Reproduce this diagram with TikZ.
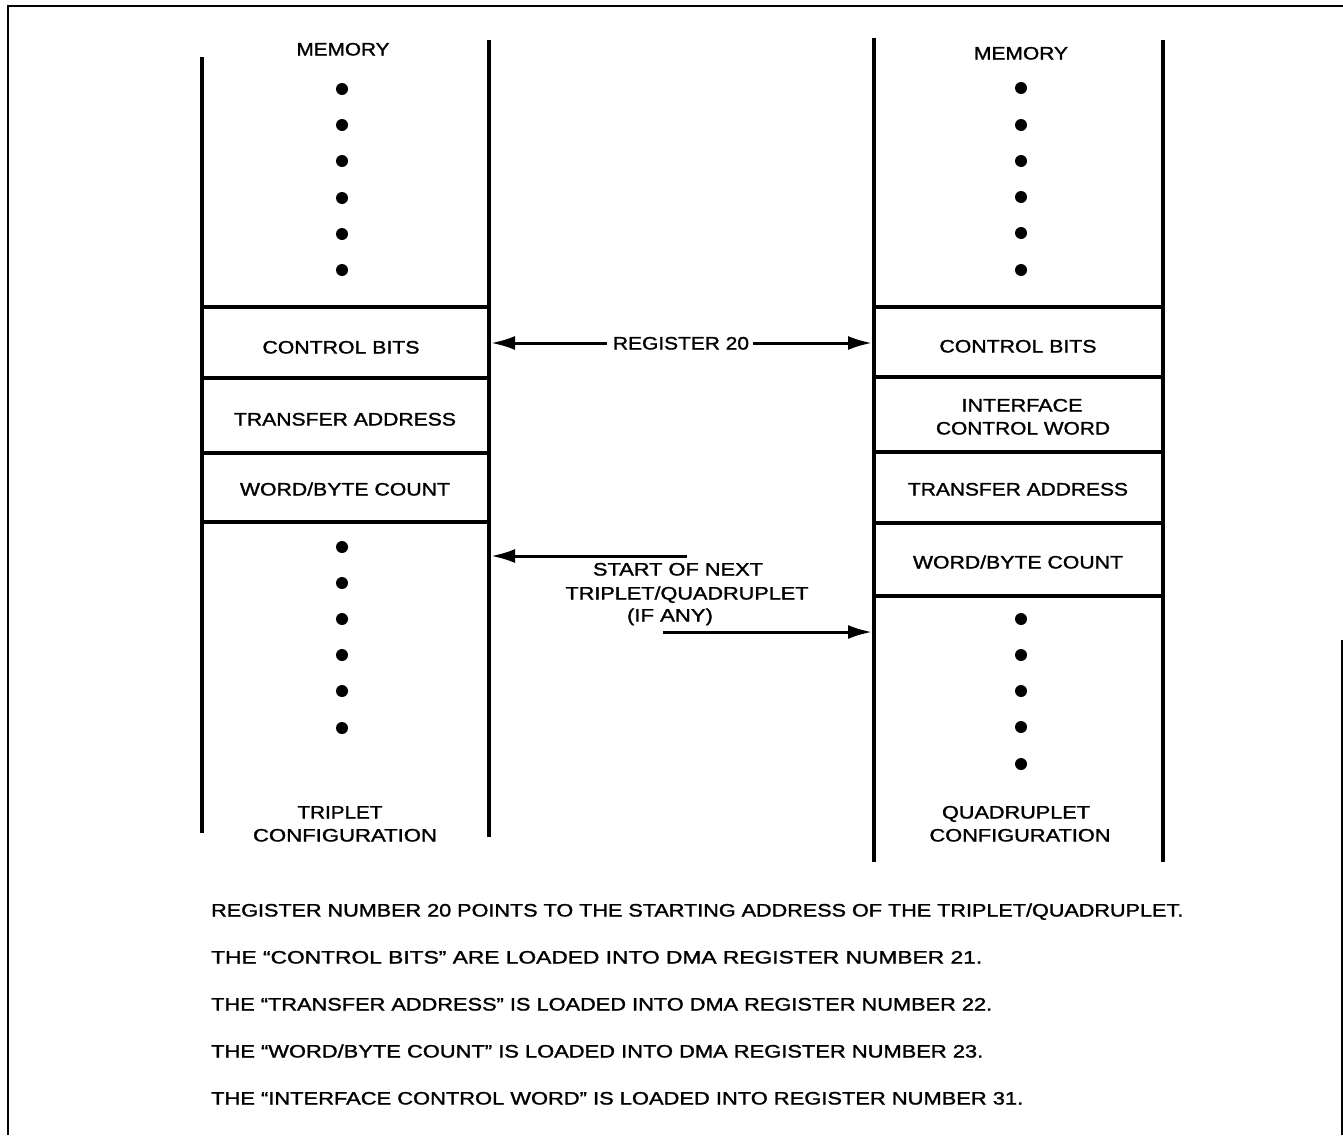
\documentclass[tikz,border=0pt]{standalone}
\usepackage{fontspec}
\setmainfont{Liberation Sans}
\newfontfamily\lblfont{Liberation Sans}[FakeBold=1.3]
\usetikzlibrary{arrows.meta}
\newcommand{\fw}[2]{\resizebox{#1pt}{\height}{#2}}
\tikzset{
  frame/.style={line width=2pt},
  colline/.style={line width=3.6pt},
  cellline/.style={line width=3.2pt},
  conn/.style={line width=3pt,-{Latex[length=24pt,width=14pt]}},
  lbl/.style={inner sep=0pt,text height=13pt,text depth=0pt,font=\lblfont\fontsize{18}{22}\selectfont},
  note/.style={lbl,anchor=west},
  dotmark/.style={fill=black}
}
\begin{document}
\begin{tikzpicture}[x=1pt,y=-1pt]
\useasboundingbox (0,0) rectangle (1343,1135);
% outer frame
\draw[frame] (8,1135) -- (8,6) -- (1343,6);
\draw[frame] (1342,640) -- (1342,1135);

% left column (triplet)
\draw[colline] (202,57) -- (202,833);
\draw[colline] (489,40) -- (489,837);
\foreach \yy in {307,378,453,522} \draw[cellline] (202,\yy) -- (489,\yy);
\foreach \yy in {89,125,161,198,234,270,547,583,619,655,691,728}
  \fill[dotmark] (342,\yy) circle (6);
\node[lbl] (lmem) at (343,49) {\fw{93}{MEMORY}};
\node[lbl] (lcb) at (341,347) {\fw{157}{CONTROL BITS}};
\node[lbl] (lta) at (345,419) {\fw{222}{TRANSFER ADDRESS}};
\node[lbl] (lwb) at (345,489) {\fw{210}{WORD/BYTE COUNT}};
\node[lbl] (ltrip) at (340,812) {\fw{85}{TRIPLET}};
\node[lbl] (lconf) at (345,835) {\fw{184}{CONFIGURATION}};

% right column (quadruplet)
\draw[colline] (874,38) -- (874,862);
\draw[colline] (1163,40) -- (1163,862);
\foreach \yy in {307,377,452,523,596} \draw[cellline] (874,\yy) -- (1163,\yy);
\foreach \yy in {88,125,161,197,233,270,619,655,691,727,764}
  \fill[dotmark] (1021,\yy) circle (6);
\node[lbl] (rmem) at (1021,53) {\fw{94}{MEMORY}};
\node[lbl] (rcb) at (1018,346) {\fw{157}{CONTROL BITS}};
\node[lbl] (rif1) at (1022,405) {\fw{121}{INTERFACE}};
\node[lbl] (rif2) at (1023,428) {\fw{174}{CONTROL WORD}};
\node[lbl] (rta) at (1018,489) {\fw{220}{TRANSFER ADDRESS}};
\node[lbl] (rwb) at (1018,562) {\fw{210}{WORD/BYTE COUNT}};
\node[lbl] (rquad) at (1016,812) {\fw{148}{QUADRUPLET}};
\node[lbl] (rconf) at (1020,835) {\fw{181}{CONFIGURATION}};

% middle labels and arrows
\node[lbl] (reg) at (681,343) {\fw{136}{REGISTER 20}};
\node[lbl] (sn1) at (678,569) {\fw{170}{START OF NEXT}};
\node[lbl] (sn2) at (687,593) {\fw{243}{TRIPLET/QUADRUPLET}};
\node[lbl] (sn3) at (670,615) {\fw{86}{(IF ANY)}};

\coordinate (regL) at (607,343);
\coordinate (regR) at (753,343);
\coordinate (tipL1) at (491,343);
\coordinate (tipR1) at (872,343);
\coordinate (nxL) at (687,556);
\coordinate (tipL2) at (491,556);
\coordinate (nxR) at (663,632);
\coordinate (tipR2) at (872,632);
\draw[conn] (regL) -- (tipL1);
\draw[conn] (regR) -- (tipR1);
\draw[conn] (nxL) -- (tipL2);
\draw[conn] (nxR) -- (tipR2);

% notes
\node[note] (n1) at (211,910) {\fw{972}{REGISTER NUMBER 20 POINTS TO THE STARTING ADDRESS OF THE TRIPLET/QUADRUPLET.}};
\node[note] (n2) at (211,957) {\fw{771}{THE “CONTROL BITS” ARE LOADED INTO DMA REGISTER NUMBER 21.}};
\node[note] (n3) at (211,1004) {\fw{781}{THE “TRANSFER ADDRESS” IS LOADED INTO DMA REGISTER NUMBER 22.}};
\node[note] (n4) at (211,1051) {\fw{772}{THE “WORD/BYTE COUNT” IS LOADED INTO DMA REGISTER NUMBER 23.}};
\node[note] (n5) at (211,1098) {\fw{812}{THE “INTERFACE CONTROL WORD” IS LOADED INTO REGISTER NUMBER 31.}};
\end{tikzpicture}
\end{document}
